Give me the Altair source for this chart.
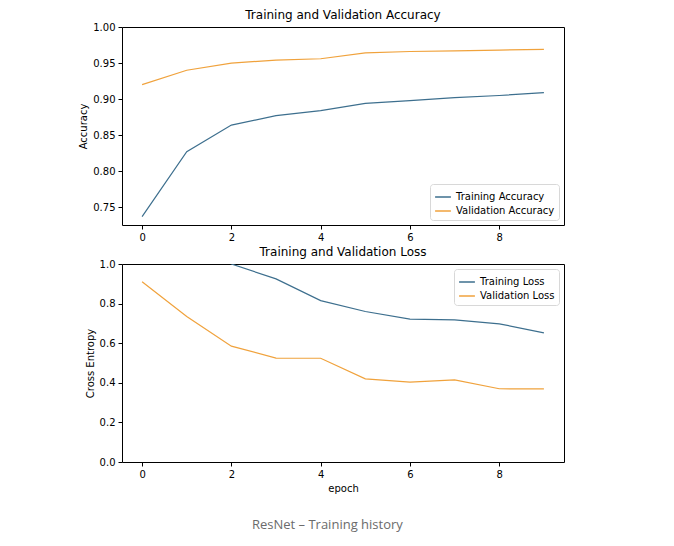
import altair as alt
import pandas as pd

epochs = list(range(10))
train_acc = [0.737, 0.827, 0.864, 0.877, 0.884, 0.894, 0.898, 0.902, 0.905, 0.909]
val_acc = [0.920, 0.940, 0.950, 0.954, 0.956, 0.964, 0.966, 0.967, 0.968, 0.969]
train_loss = [1.55, 1.13, 1.0, 0.925, 0.815, 0.760, 0.722, 0.718, 0.698, 0.652]
val_loss = [0.910, 0.735, 0.585, 0.525, 0.524, 0.420, 0.403, 0.415, 0.370, 0.369]

BLUE = "#3d6f8e"
ORANGE = "#f0a23c"

acc_df = pd.DataFrame({
    "epoch": epochs * 2,
    "value": train_acc + val_acc,
    "series": ["Training Accuracy"] * 10 + ["Validation Accuracy"] * 10,
})
loss_df = pd.DataFrame({
    "epoch": epochs * 2,
    "value": train_loss + val_loss,
    "series": ["Training Loss"] * 10 + ["Validation Loss"] * 10,
})

W, H = 442, 198
xscale = alt.Scale(domain=[-0.45, 9.45], nice=False, zero=False)
font = "DejaVu Sans"

def axis(values, fmt, title):
    kw = dict(values=values, format=fmt, grid=False, domain=False, tickColor="black",
              tickSize=4, labelFontSize=10, labelFont=font, labelColor="black",
              labelPadding=3, titleFont=font, titleFontSize=10, titleFontWeight="normal",
              titleColor="black")
    if title is None:
        return alt.Axis(title=None, **kw)
    return alt.Axis(title=title, **kw)

def legend(orient):
    return alt.Legend(
        title=None, orient=orient, symbolType="stroke", symbolStrokeWidth=1.5,
        symbolSize=250, labelFontSize=10, labelFont=font, labelColor="black",
        fillColor="white", strokeColor="#d8d8d8", padding=4, offset=5,
        cornerRadius=3, rowPadding=0,
    )

acc = alt.Chart(acc_df).mark_line(strokeWidth=1.2, clip=True).encode(
    x=alt.X("epoch:Q", scale=xscale, axis=axis([0, 2, 4, 6, 8], "d", None)),
    y=alt.Y("value:Q",
            scale=alt.Scale(domain=[0.7254, 1.0], nice=False, zero=False),
            axis=axis([0.75, 0.80, 0.85, 0.90, 0.95, 1.00], ".2f", "Accuracy")),
    color=alt.Color("series:N",
                    scale=alt.Scale(domain=["Training Accuracy", "Validation Accuracy"],
                                    range=[BLUE, ORANGE]),
                    legend=legend("bottom-right")),
).properties(width=W, height=H,
             title=alt.TitleParams("Training and Validation Accuracy", fontSize=12,
                                   font=font, fontWeight="normal", offset=0))

loss = alt.Chart(loss_df).mark_line(strokeWidth=1.2, clip=True).encode(
    x=alt.X("epoch:Q", scale=xscale, axis=axis([0, 2, 4, 6, 8], "d", "epoch")),
    y=alt.Y("value:Q",
            scale=alt.Scale(domain=[0, 1.0], nice=False, zero=False),
            axis=axis([0, 0.2, 0.4, 0.6, 0.8, 1.0], ".1f", "Cross Entropy")),
    color=alt.Color("series:N",
                    scale=alt.Scale(domain=["Training Loss", "Validation Loss"],
                                    range=[BLUE, ORANGE]),
                    legend=legend("top-right")),
).properties(width=W, height=H,
             title=alt.TitleParams("Training and Validation Loss", fontSize=12,
                                   font=font, fontWeight="normal", offset=0))

chart = alt.vconcat(acc, loss, spacing=2).resolve_scale(color="independent").resolve_legend(
    color="independent"
).properties(
    title=alt.TitleParams("ResNet – Training history", orient="bottom", anchor="middle",
                          fontSize=13, font="Open Sans", fontWeight="normal",
                          color="#6b6b6b", offset=25, dx=6),
    padding={"left": 70, "top": 0, "right": 10, "bottom": 5},
    background="white",
).configure_view(stroke="black", strokeWidth=1)

chart.save("out.html", embed_options={"renderer": "svg", "actions": False})
